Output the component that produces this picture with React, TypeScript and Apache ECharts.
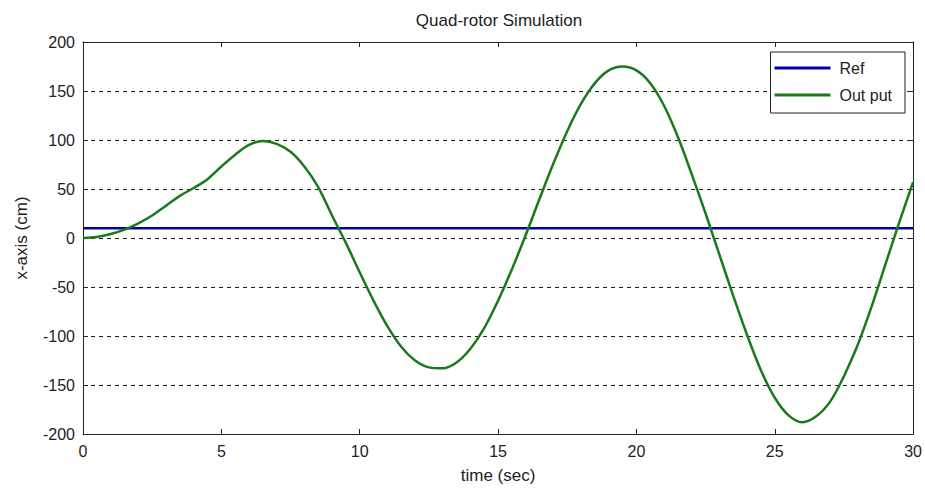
import React, { useEffect, useRef } from "react";
import * as echarts from "echarts";

const timeSec: number[] = [
  0, 0.5, 1, 1.5, 2, 2.5, 3, 3.5, 4, 4.5, 5, 5.5, 6, 6.5, 7, 7.5, 8, 8.5, 9, 9.5,
  10, 10.5, 11, 11.5, 12, 12.5, 13, 13.5, 14, 14.5, 15, 15.5, 16, 16.5, 17, 17.5,
  18, 18.5, 19, 19.5, 20, 20.5, 21, 21.5, 22, 22.5, 23, 23.5, 24, 24.5, 25, 25.5,
  26, 26.5, 27, 27.5, 28, 28.5, 29, 29.5, 30,
];
const outputValues: number[] = [
  0, 1, 4, 8.5, 15, 23, 33, 43, 51, 60, 73, 85, 95, 99, 96, 88, 73, 52, 23, -5,
  -35, -64, -90, -111, -125, -132, -133, -127, -113, -92, -64, -32, 3, 40, 76, 109,
  137, 158, 171, 175, 171, 158, 135, 103, 65, 25, -17, -59, -99, -135, -163, -181,
  -188, -182, -167, -141, -109, -70, -27, 16, 57,
];
const refValue = 10;
const refTimes: number[] = [0, 30];
const seriesNames: string[] = ["Ref", "Out put"];

const FONT = "'Liberation Sans', Arial, sans-serif";

export default function App() {
  const ref = useRef<HTMLDivElement>(null);
  useEffect(() => {
    document.body.style.margin = "0";
    if (!ref.current) return;
    const chart = echarts.init(ref.current, undefined, { renderer: "svg" });
    const axisCommon = {
      type: "value" as const,
      axisLine: { show: true, onZero: false, lineStyle: { color: "#222", width: 1 } },
      axisTick: { show: true, inside: true, length: 5, lineStyle: { color: "#222" } },
      axisLabel: { color: "#222", fontSize: 16, fontFamily: FONT },
    };
    chart.setOption({
      animation: false,
      backgroundColor: "#fff",
      textStyle: { fontFamily: FONT },
      graphic: [
        {
          type: "text",
          x: 499,
          y: 20,
          style: {
            text: "Quad-rotor Simulation",
            fill: "#222",
            fontSize: 17,
            fontFamily: FONT,
            textAlign: "center",
            textVerticalAlign: "middle",
          },
        },
      ],
      grid: { left: 83, right: 10, top: 42, bottom: 52, containLabel: false },
      legend: {
        orient: "vertical",
        right: 20,
        top: 52,
        data: seriesNames,
        icon: "rect",
        itemWidth: 56,
        itemHeight: 3,
        itemGap: 9,
        backgroundColor: "#fff",
        borderColor: "#222",
        borderWidth: 1,
        borderRadius: 0,
        padding: [7, 13, 9, 4],
        textStyle: {
          fontSize: 16,
          lineHeight: 18,
          color: "#222",
          fontFamily: FONT,
          padding: [0, 0, 0, 4],
        },
      },
      xAxis: [
        {
          ...axisCommon,
          min: 0,
          max: 30,
          interval: 5,
          name: "time (sec)",
          nameLocation: "middle",
          nameGap: 33,
          nameTextStyle: { fontSize: 17, color: "#222", fontFamily: FONT },
          axisLabel: { ...axisCommon.axisLabel, margin: 9 },
          splitLine: { show: false },
        },
        {
          ...axisCommon,
          position: "top",
          min: 0,
          max: 30,
          interval: 5,
          axisLabel: { show: false },
          splitLine: { show: false },
        },
      ],
      yAxis: [
        {
          ...axisCommon,
          min: -200,
          max: 200,
          interval: 50,
          name: "x-axis (cm)",
          nameLocation: "middle",
          nameGap: 53,
          nameTextStyle: { fontSize: 17, color: "#222", fontFamily: FONT },
          axisLabel: { ...axisCommon.axisLabel, margin: 8 },
          splitLine: {
            show: true,
            showMinLine: false,
            showMaxLine: false,
            lineStyle: { color: "#222", type: [4, 4], width: 1 },
          },
        },
        {
          ...axisCommon,
          position: "right",
          min: -200,
          max: 200,
          interval: 50,
          axisLabel: { show: false },
          splitLine: { show: false },
        },
      ],
      series: [
        {
          name: seriesNames[0],
          type: "line",
          data: refTimes.map((t) => [t, refValue]),
          showSymbol: false,
          lineStyle: { color: "#0000b0", width: 2.5 },
          itemStyle: { color: "#0000b0" },
          z: 2,
        },
        {
          name: seriesNames[1],
          type: "line",
          data: timeSec.map((t, i) => [t, outputValues[i]]),
          smooth: 0.35,
          showSymbol: false,
          lineStyle: { color: "#1a7a1a", width: 2.5 },
          itemStyle: { color: "#1a7a1a" },
          z: 3,
        },
      ],
    });
    return () => chart.dispose();
  }, []);
  return <div ref={ref} style={{ width: 925, height: 489 }} />;
}
